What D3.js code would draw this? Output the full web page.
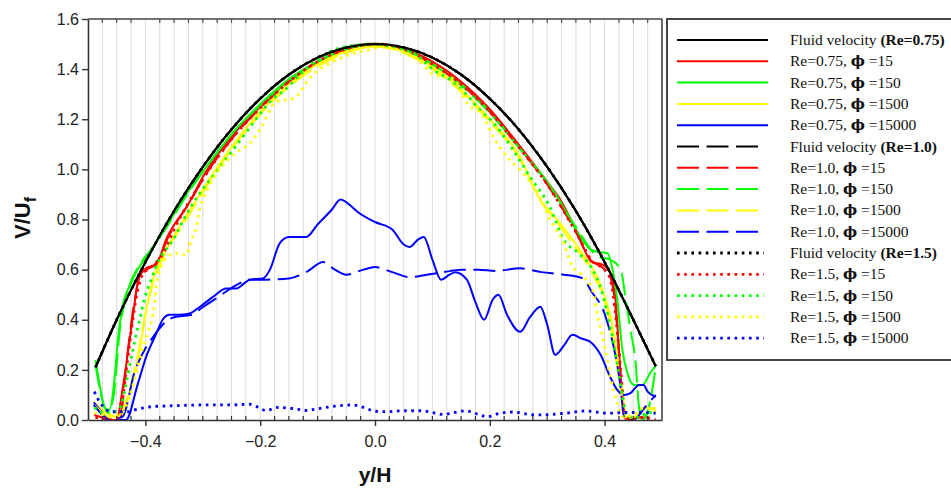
<!DOCTYPE html>
<html><head><meta charset="utf-8">
<script src="https://cdn.jsdelivr.net/npm/d3@7/dist/d3.min.js"></script>
<style>body{margin:0;background:#fff}</style>
</head><body><svg id="c" width="951" height="489"></svg>
<script>
// ---------- data (y/H, V/Uf) ----------
const xTickValues = [-0.4, -0.2, 0.0, 0.2, 0.4];
const yTickValues = [0.0, 0.2, 0.4, 0.6, 0.8, 1.0, 1.2, 1.4, 1.6];

const fluid = [[-0.487,0.21],[-0.45,0.40],[-0.4,0.63],[-0.35,0.834],[-0.3,1.01],[-0.25,1.16],[-0.2,1.282],[-0.15,1.378],[-0.1,1.446],[-0.05,1.486],[0,1.5],[0.05,1.486],[0.1,1.446],[0.15,1.378],[0.2,1.282],[0.25,1.16],[0.3,1.01],[0.35,0.834],[0.4,0.63],[0.45,0.40],[0.489,0.215]];

const re075_15 = [[-0.448,0],[-0.434,0.21],[-0.422,0.41],[-0.412,0.56],[-0.399,0.605],[-0.381,0.62],[-0.364,0.72],[-0.323,0.87],[-0.3,0.97],[-0.25,1.13],[-0.2,1.25],[-0.15,1.355],[-0.1,1.43],[-0.05,1.48],[0,1.5],[0.05,1.48],[0.1,1.43],[0.15,1.35],[0.2,1.24],[0.25,1.1],[0.3,0.95],[0.323,0.878],[0.35,0.76],[0.378,0.63],[0.396,0.62],[0.41,0.59],[0.419,0.48],[0.425,0.28],[0.431,0.08],[0.437,0]];
const re075_150 = [[-0.487,0.24],[-0.478,0.12],[-0.471,0.05],[-0.463,0.04],[-0.454,0.16],[-0.448,0.32],[-0.44,0.45],[-0.425,0.545],[-0.416,0.59],[-0.405,0.63],[-0.387,0.69],[-0.364,0.77],[-0.335,0.88],[-0.3,0.99],[-0.25,1.14],[-0.2,1.26],[-0.15,1.36],[-0.1,1.43],[-0.05,1.48],[0,1.5],[0.05,1.48],[0.1,1.42],[0.15,1.34],[0.2,1.23],[0.25,1.09],[0.3,0.95],[0.323,0.87],[0.35,0.76],[0.376,0.68],[0.39,0.67],[0.405,0.665],[0.413,0.61],[0.422,0.48],[0.431,0.28],[0.44,0.186],[0.451,0.14],[0.466,0.14],[0.48,0.19],[0.489,0.215]];
const re075_1500 = [[-0.489,0.07],[-0.475,0.04],[-0.46,0.02],[-0.45,0.01],[-0.44,0.03],[-0.425,0.13],[-0.41,0.28],[-0.399,0.43],[-0.387,0.56],[-0.376,0.625],[-0.358,0.705],[-0.341,0.77],[-0.311,0.88],[-0.28,0.99],[-0.25,1.09],[-0.2,1.23],[-0.15,1.34],[-0.1,1.42],[-0.05,1.47],[0,1.49],[0.05,1.47],[0.1,1.41],[0.15,1.32],[0.2,1.2],[0.25,1.06],[0.288,0.878],[0.317,0.8],[0.344,0.72],[0.367,0.645],[0.387,0.572],[0.402,0.48],[0.413,0.386],[0.422,0.253],[0.431,0.12],[0.437,0.013],[0.45,0.01],[0.47,0.05],[0.489,0.04]];
const re075_15000 = [[-0.49,0.07],[-0.475,0.03],[-0.46,0.0],[-0.434,0],[-0.413,0.146],[-0.399,0.25],[-0.381,0.345],[-0.37,0.4],[-0.358,0.42],[-0.341,0.42],[-0.323,0.425],[-0.306,0.45],[-0.283,0.49],[-0.259,0.525],[-0.242,0.525],[-0.218,0.56],[-0.195,0.565],[-0.183,0.6],[-0.166,0.705],[-0.15,0.73],[-0.12,0.73],[-0.1,0.78],[-0.075,0.84],[-0.06,0.88],[-0.045,0.86],[-0.03,0.83],[0,0.79],[0.03,0.76],[0.05,0.7],[0.06,0.69],[0.075,0.72],[0.085,0.73],[0.1,0.64],[0.115,0.56],[0.13,0.58],[0.14,0.59],[0.16,0.56],[0.175,0.47],[0.19,0.4],[0.205,0.48],[0.215,0.5],[0.23,0.42],[0.253,0.352],[0.27,0.41],[0.288,0.452],[0.3,0.38],[0.314,0.26],[0.33,0.3],[0.344,0.34],[0.36,0.325],[0.376,0.31],[0.393,0.26],[0.41,0.17],[0.422,0.12],[0.434,0.1],[0.445,0.107],[0.46,0.14],[0.468,0.14],[0.475,0.113],[0.489,0.093]];

const re10_15 = [[-0.489,0.02],[-0.475,0.01],[-0.455,0],[-0.445,0],[-0.432,0.25],[-0.42,0.46],[-0.41,0.57],[-0.397,0.6],[-0.38,0.63],[-0.36,0.73],[-0.32,0.88],[-0.3,0.96],[-0.25,1.12],[-0.2,1.245],[-0.15,1.35],[-0.1,1.43],[-0.05,1.48],[0,1.5],[0.05,1.48],[0.1,1.42],[0.15,1.34],[0.2,1.23],[0.25,1.09],[0.3,0.94],[0.35,0.75],[0.375,0.64],[0.395,0.61],[0.408,0.58],[0.418,0.47],[0.425,0.27],[0.432,0.06],[0.44,0],[0.46,0.01],[0.489,0.01]];
const re10_150 = [[-0.487,0.22],[-0.475,0.08],[-0.465,0.03],[-0.455,0.1],[-0.445,0.35],[-0.43,0.52],[-0.41,0.62],[-0.39,0.68],[-0.36,0.78],[-0.33,0.89],[-0.3,0.99],[-0.25,1.14],[-0.2,1.255],[-0.15,1.355],[-0.1,1.43],[-0.05,1.48],[0,1.5],[0.05,1.48],[0.1,1.42],[0.15,1.335],[0.2,1.225],[0.25,1.09],[0.3,0.95],[0.35,0.77],[0.39,0.65],[0.41,0.64],[0.428,0.6],[0.437,0.48],[0.445,0.36],[0.454,0.23],[0.46,0.05],[0.466,0],[0.477,0.05],[0.489,0.21]];
const re10_1500 = [[-0.489,0.06],[-0.475,0.03],[-0.46,0.01],[-0.445,0.02],[-0.43,0.1],[-0.415,0.24],[-0.402,0.4],[-0.39,0.52],[-0.378,0.6],[-0.36,0.69],[-0.34,0.76],[-0.31,0.87],[-0.28,0.98],[-0.25,1.08],[-0.2,1.22],[-0.15,1.33],[-0.1,1.41],[-0.05,1.465],[0,1.49],[0.05,1.465],[0.1,1.4],[0.15,1.31],[0.2,1.19],[0.25,1.05],[0.29,0.87],[0.32,0.78],[0.345,0.7],[0.365,0.64],[0.38,0.58],[0.398,0.49],[0.41,0.38],[0.42,0.24],[0.43,0.1],[0.436,0.01],[0.45,0.01],[0.47,0.04],[0.489,0.05]];
const re10_15000 = [[-0.49,0.06],[-0.475,0.02],[-0.465,0],[-0.44,0.013],[-0.419,0.19],[-0.399,0.29],[-0.387,0.33],[-0.37,0.38],[-0.35,0.41],[-0.32,0.42],[-0.3,0.45],[-0.28,0.48],[-0.24,0.54],[-0.22,0.56],[-0.19,0.56],[-0.15,0.565],[-0.12,0.59],[-0.09,0.63],[-0.07,0.6],[-0.05,0.58],[-0.02,0.6],[0,0.61],[0.03,0.59],[0.06,0.57],[0.09,0.58],[0.12,0.59],[0.15,0.6],[0.18,0.6],[0.21,0.595],[0.253,0.605],[0.29,0.59],[0.329,0.58],[0.361,0.566],[0.378,0.51],[0.399,0.43],[0.413,0.32],[0.428,0.13],[0.434,0.01],[0.45,0],[0.47,0.05],[0.489,0.1]];

const re15_15 = [[-0.487,0.01],[-0.47,0.005],[-0.455,0],[-0.445,0.02],[-0.435,0.17],[-0.425,0.35],[-0.415,0.5],[-0.405,0.58],[-0.39,0.61],[-0.37,0.66],[-0.35,0.76],[-0.3,0.96],[-0.25,1.12],[-0.2,1.245],[-0.15,1.35],[-0.1,1.43],[-0.05,1.48],[0,1.5],[0.05,1.48],[0.1,1.42],[0.15,1.34],[0.2,1.23],[0.25,1.09],[0.3,0.94],[0.35,0.75],[0.38,0.63],[0.4,0.6],[0.41,0.56],[0.42,0.4],[0.428,0.2],[0.435,0.03],[0.445,0],[0.465,0.01],[0.489,0.0]];
const re15_150 = [[-0.489,0.05],[-0.475,0.03],[-0.458,0.03],[-0.443,0.053],[-0.434,0.14],[-0.428,0.21],[-0.419,0.31],[-0.41,0.4],[-0.402,0.48],[-0.39,0.56],[-0.376,0.64],[-0.361,0.69],[-0.349,0.73],[-0.338,0.78],[-0.317,0.865],[-0.28,0.98],[-0.24,1.1],[-0.204,1.21],[-0.18,1.277],[-0.157,1.317],[-0.131,1.377],[-0.105,1.43],[-0.084,1.463],[-0.05,1.49],[0,1.5],[0.03,1.49],[0.067,1.465],[0.102,1.397],[0.131,1.357],[0.16,1.297],[0.183,1.237],[0.207,1.184],[0.24,1.08],[0.27,0.97],[0.303,0.858],[0.329,0.718],[0.355,0.665],[0.376,0.612],[0.396,0.506],[0.41,0.372],[0.422,0.226],[0.431,0.093],[0.44,0.013],[0.46,0.01],[0.475,0.03],[0.489,0.03]];
const re15_1500 = [[-0.489,0.03],[-0.47,0.02],[-0.45,0.02],[-0.44,0.03],[-0.428,0.093],[-0.416,0.186],[-0.405,0.286],[-0.396,0.346],[-0.384,0.466],[-0.381,0.532],[-0.373,0.612],[-0.361,0.652],[-0.347,0.665],[-0.329,0.658],[-0.32,0.718],[-0.311,0.771],[-0.306,0.838],[-0.3,0.878],[-0.28,0.97],[-0.26,1.03],[-0.24,1.07],[-0.22,1.1],[-0.2,1.16],[-0.172,1.27],[-0.14,1.285],[-0.114,1.365],[-0.073,1.43],[-0.006,1.48],[0.02,1.49],[0.055,1.46],[0.079,1.43],[0.1,1.38],[0.137,1.36],[0.16,1.265],[0.189,1.21],[0.206,1.13],[0.23,1.05],[0.26,0.98],[0.285,0.9],[0.305,0.8],[0.329,0.705],[0.344,0.612],[0.36,0.58],[0.381,0.506],[0.387,0.426],[0.399,0.306],[0.41,0.173],[0.422,0.067],[0.431,0.013],[0.45,0.02],[0.47,0.05],[0.489,0.03]];
const re15_15000 = [[-0.489,0.113],[-0.48,0.073],[-0.471,0.047],[-0.46,0.033],[-0.443,0.033],[-0.43,0.033],[-0.419,0.04],[-0.405,0.047],[-0.39,0.053],[-0.35,0.057],[-0.3,0.06],[-0.25,0.06],[-0.22,0.063],[-0.2,0.047],[-0.19,0.037],[-0.17,0.05],[-0.14,0.045],[-0.12,0.038],[-0.1,0.045],[-0.07,0.055],[-0.04,0.06],[-0.02,0.05],[0,0.035],[0.02,0.033],[0.05,0.037],[0.08,0.037],[0.1,0.03],[0.12,0.022],[0.134,0.027],[0.157,0.037],[0.183,0.02],[0.195,0.013],[0.218,0.027],[0.24,0.032],[0.279,0.02],[0.332,0.027],[0.367,0.036],[0.405,0.027],[0.44,0.03],[0.466,0.03],[0.489,0.027]];

const seriesLabels = [
  [["Fluid velocity ",0],["(Re=0.75)",1]],
  [["Re=0.75, ",0],["\u03D5",2],[" =15",0]],
  [["Re=0.75, ",0],["\u03D5",2],[" =150",0]],
  [["Re=0.75, ",0],["\u03D5",2],[" =1500",0]],
  [["Re=0.75, ",0],["\u03D5",2],[" =15000",0]],
  [["Fluid velocity ",0],["(Re=1.0)",1]],
  [["Re=1.0, ",0],["\u03D5",2],[" =15",0]],
  [["Re=1.0, ",0],["\u03D5",2],[" =150",0]],
  [["Re=1.0, ",0],["\u03D5",2],[" =1500",0]],
  [["Re=1.0, ",0],["\u03D5",2],[" =15000",0]],
  [["Fluid velocity ",0],["(Re=1.5)",1]],
  [["Re=1.5, ",0],["\u03D5",2],[" =15",0]],
  [["Re=1.5, ",0],["\u03D5",2],[" =150",0]],
  [["Re=1.5, ",0],["\u03D5",2],[" =1500",0]],
  [["Re=1.5, ",0],["\u03D5",2],[" =15000",0]]
];
const seriesData = [fluid, re075_15, re075_150, re075_1500, re075_15000,
                    fluid, re10_15, re10_150, re10_1500, re10_15000,
                    fluid, re15_15, re15_150, re15_1500, re15_15000];
const colors = ["#000000","#ff0000","#00ff00","#ffff00","#0000ff"];
const styles = ["solid","dashed","dotted"];

// ---------- drawing ----------
const svg = d3.select("#c");
const L = 88, R = 662, T = 19, B = 420;
const x = d3.scaleLinear().domain([-0.5, 0.5]).range([L, R]);
const y = d3.scaleLinear().domain([0, 1.6]).range([B, T]);

const dashOf = s => s === "dashed" ? "22,7.5" : s === "dotted" ? "2.6,4.6" : null;
const widthOf = s => s === "dotted" ? 2.8 : 2;

// grid lines
const gridVals = d3.range(-19, 20).map(i => i * 0.025);
svg.append("g").selectAll("line").data(gridVals).join("line")
  .attr("x1", d => x(d)).attr("x2", d => x(d)).attr("y1", T).attr("y2", B)
  .attr("stroke", "#dcdcdc").attr("stroke-width", 1);

// clip
svg.append("clipPath").attr("id", "clip").append("rect")
  .attr("x", L).attr("y", T - 2).attr("width", R - L).attr("height", B - T + 2);

const line = d3.line().x(d => x(d[0])).y(d => y(d[1])).curve(d3.curveMonotoneX);
const gL = svg.append("g").attr("clip-path", "url(#clip)");
seriesData.forEach((data, i) => {
  const st = styles[Math.floor(i / 5)];
  gL.append("path").datum(data).attr("d", line)
    .attr("fill", "none").attr("stroke", colors[i % 5])
    .attr("stroke-width", widthOf(st))
    .attr("stroke-dasharray", dashOf(st));
});
// fluid velocity solid on top
gL.append("path").datum(fluid).attr("d", line).attr("fill", "none")
  .attr("stroke", "#000").attr("stroke-width", 2);

// axes
const axisColor = "#333";
const xAxis = svg.append("g").attr("transform", `translate(0,${B})`)
  .call(d3.axisBottom(x).tickValues(xTickValues).tickSize(6).tickSizeOuter(0)
    .tickFormat(d3.format(".1f")));
const yAxis = svg.append("g").attr("transform", `translate(${L},0)`)
  .call(d3.axisLeft(y).tickValues(yTickValues).tickSize(6).tickSizeOuter(0)
    .tickFormat(d3.format(".1f")));
[xAxis, yAxis].forEach(a => {
  a.select(".domain").attr("stroke", axisColor).attr("stroke-width", 1.6);
  a.selectAll(".tick line").attr("stroke", axisColor).attr("stroke-width", 1.4);
  a.selectAll(".tick text").attr("font-family", "Liberation Sans, Arial, sans-serif")
    .attr("font-size", 16).attr("fill", "#222");
});
xAxis.selectAll(".tick text").attr("dy", "0.71em").attr("y", 16);
yAxis.selectAll(".tick text").attr("x", -9);

// minor inward ticks bottom and top
const minorVals = gridVals.filter(v => Math.abs(Math.round(v / 0.2) * 0.2 - v) > 1e-6);
svg.append("g").selectAll("line").data(minorVals).join("line")
  .attr("x1", d => x(d)).attr("x2", d => x(d)).attr("y1", B).attr("y2", B - 4)
  .attr("stroke", axisColor).attr("stroke-width", 1.2);
svg.append("g").selectAll("line").data(minorVals).join("line")
  .attr("x1", d => x(d)).attr("x2", d => x(d)).attr("y1", T).attr("y2", T + 4)
  .attr("stroke", "#555").attr("stroke-width", 1.2);

// frame top and right
svg.append("line").attr("x1", L).attr("x2", R).attr("y1", T).attr("y2", T)
  .attr("stroke", "#444").attr("stroke-width", 1.6);
svg.append("line").attr("x1", R).attr("x2", R).attr("y1", T).attr("y2", B)
  .attr("stroke", "#444").attr("stroke-width", 1.6);

// axis titles
svg.append("text").attr("x", 375).attr("y", 482).attr("text-anchor", "middle")
  .attr("font-family", "Liberation Sans, Arial, sans-serif").attr("font-weight", "bold")
  .attr("font-size", 21).attr("fill", "#111").text("y/H");
const yt = svg.append("text").attr("transform", "translate(30,218) rotate(-90)")
  .attr("text-anchor", "middle")
  .attr("font-family", "Liberation Sans, Arial, sans-serif").attr("font-weight", "bold")
  .attr("font-size", 22).attr("fill", "#111");
yt.append("tspan").text("V/U");
yt.append("tspan").attr("font-size", 16).attr("dy", 6).text("f");

// legend
const lg = svg.append("g");
lg.append("rect").attr("x", 667).attr("y", 19).attr("width", 300).attr("height", 341)
  .attr("fill", "#fff").attr("stroke", "#333").attr("stroke-width", 1.8);
const rowY = i => 40 + i * 21.3;
seriesLabels.forEach((lab, i) => {
  const st = styles[Math.floor(i / 5)];
  const x2 = st === "solid" ? 768 : st === "dashed" ? 760 : 764;
  lg.append("line").attr("x1", 677).attr("x2", x2).attr("y1", rowY(i)).attr("y2", rowY(i))
    .attr("stroke", colors[i % 5]).attr("stroke-width", widthOf(st))
    .attr("stroke-dasharray", dashOf(st));
  const t = lg.append("text").attr("x", 790).attr("y", rowY(i) + 5)
    .attr("font-family", "Liberation Serif, Times New Roman, serif")
    .attr("font-size", 15.5).attr("fill", "#111");
  lab.forEach(([s, b]) => {
    const sp = t.append("tspan").attr("font-weight", b ? "bold" : "normal").text(s);
    if (b === 2) sp.attr("font-family", "DejaVu Serif, serif").attr("font-size", 15);
  });
});
</script></body></html>
